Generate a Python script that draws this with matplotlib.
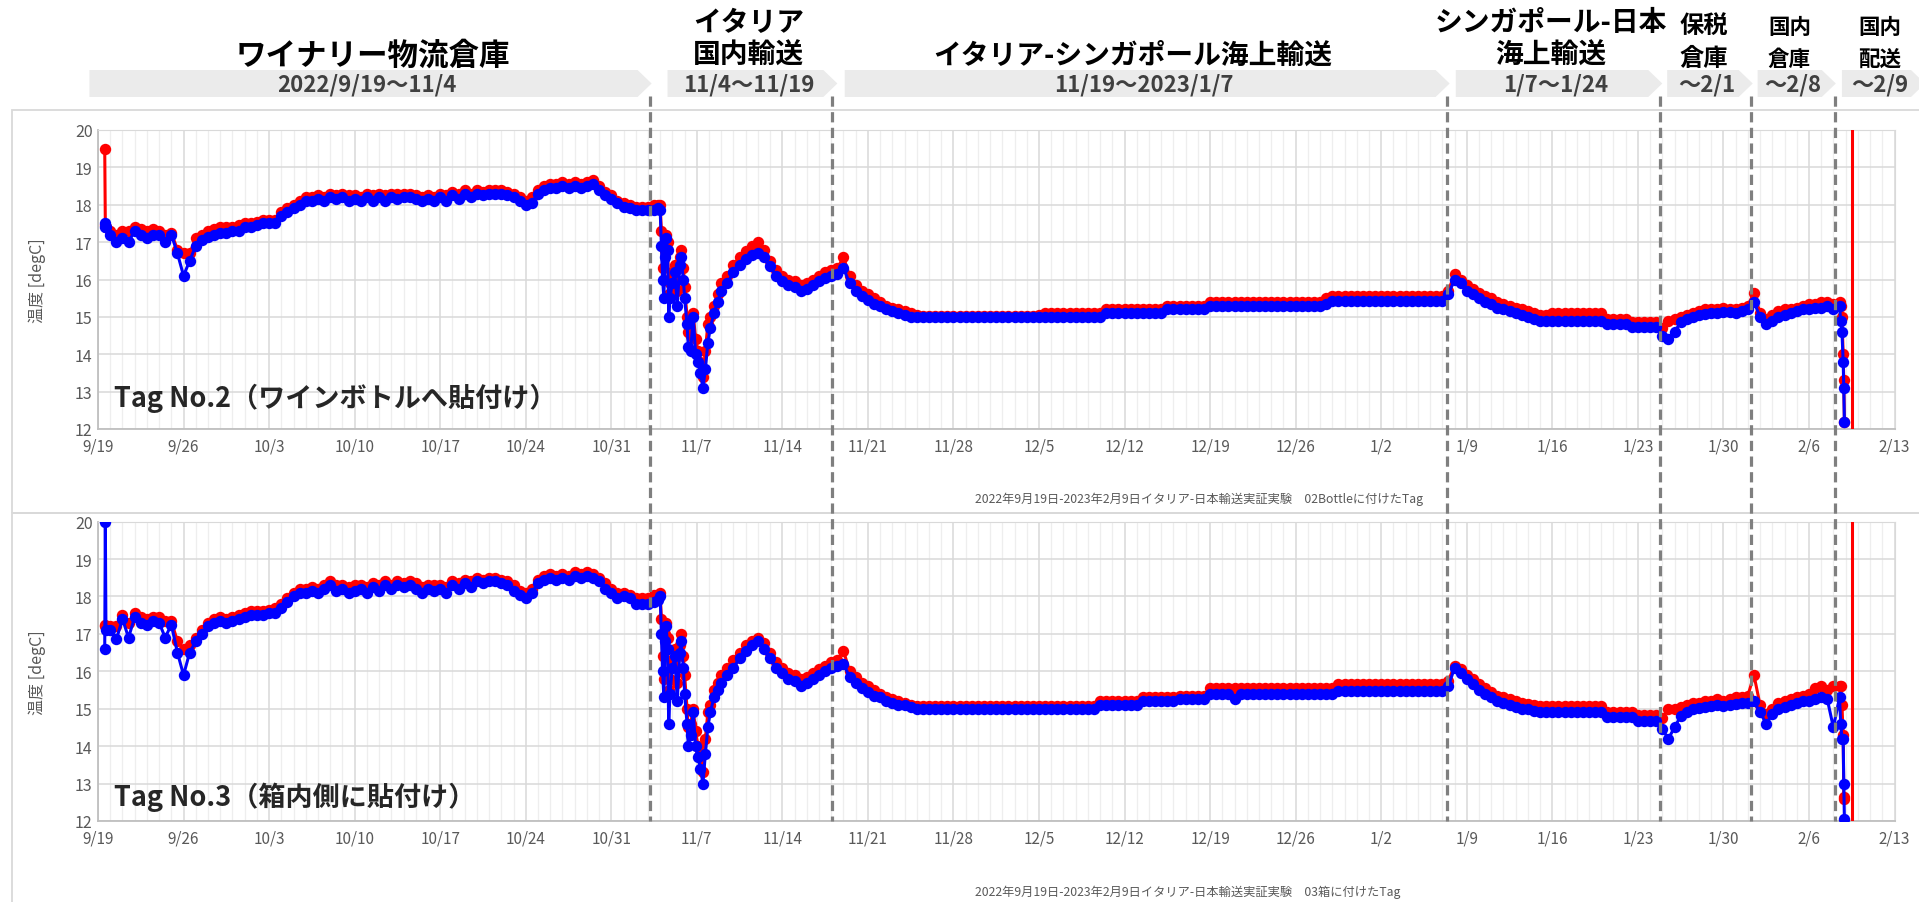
import numpy as np
import pandas as pd
import matplotlib
matplotlib.use("Agg")
import matplotlib.pyplot as plt
import matplotlib.dates as mdates
from matplotlib.patches import Polygon, Rectangle
from matplotlib.ticker import FixedLocator, FuncFormatter

plt.rcParams['font.family'] = ['Noto Sans CJK JP', 'DejaVu Sans']

START = pd.Timestamp('2022-09-19')
END = pd.Timestamp('2023-02-13')

# sample times, days after 2022-09-19 00:00
day_start = [0.55, 0.6, 0.65]
day_spike = [45.8, 46.0, 46.1, 46.2, 46.3, 46.4, 46.5, 46.6, 46.7, 46.8,
             47.0, 47.2, 47.4, 47.6, 47.7, 47.9, 48.0, 48.2, 48.3, 48.5,
             48.7, 48.9, 49.1, 49.3, 49.5, 49.7, 49.9, 50.1, 50.4, 50.7, 51.0]
day_end = [142.6, 142.7, 142.8, 142.85, 142.9]
# segment a: every 12h from day 1.0, segment c: every 12h from day 51.5

# ---- Tag No.2 ----
tag2_blue_start = [17.4, 17.5, 17.4]
tag2_red_start = [19.5, 17.45, 17.4]
tag2_blue_a = [
    17.2, 17.0, 17.1, 17.0, 17.3, 17.2, 17.1, 17.2, 17.2, 17.0,
    17.2, 16.7, 16.1, 16.5, 16.9, 17.05, 17.15, 17.2, 17.25, 17.25,
    17.3, 17.3, 17.4, 17.4, 17.45, 17.5, 17.5, 17.5, 17.7, 17.8,
    17.9, 18.0, 18.1, 18.1, 18.15, 18.1, 18.2, 18.15, 18.2, 18.1,
    18.15, 18.1, 18.2, 18.1, 18.2, 18.1, 18.2, 18.15, 18.2, 18.2,
    18.15, 18.1, 18.15, 18.1, 18.2, 18.1, 18.25, 18.15, 18.3, 18.2,
    18.3, 18.25, 18.3, 18.3, 18.3, 18.25, 18.2, 18.1, 18.0, 18.05,
    18.3, 18.4, 18.45, 18.45, 18.5, 18.45, 18.5, 18.45, 18.5, 18.55,
    18.4, 18.25, 18.15, 18.05, 17.95, 17.9, 17.85, 17.85, 17.85, 17.85]
tag2_red_a = [
    17.3, 17.2, 17.3, 17.3, 17.4, 17.35, 17.3, 17.35, 17.3, 17.2,
    17.25, 16.8, 16.7, 16.7, 17.1, 17.2, 17.3, 17.35, 17.4, 17.4,
    17.4, 17.45, 17.5, 17.5, 17.55, 17.6, 17.6, 17.6, 17.8, 17.9,
    18.0, 18.1, 18.2, 18.2, 18.25, 18.2, 18.3, 18.25, 18.3, 18.25,
    18.25, 18.2, 18.3, 18.25, 18.3, 18.25, 18.3, 18.3, 18.3, 18.3,
    18.25, 18.2, 18.25, 18.2, 18.3, 18.25, 18.35, 18.3, 18.4, 18.3,
    18.4, 18.35, 18.4, 18.4, 18.4, 18.35, 18.3, 18.2, 18.1, 18.2,
    18.4, 18.5, 18.55, 18.55, 18.6, 18.55, 18.6, 18.55, 18.6, 18.65,
    18.5, 18.35, 18.25, 18.1, 18.05, 18.0, 17.95, 17.95, 17.95, 18.0]
tag2_blue_b = [17.9, 17.85, 16.9, 16.0, 15.5, 16.6, 17.1, 16.8, 15.0, 15.5,
               15.9, 16.2, 15.3, 16.4, 16.6, 16.0, 15.5, 14.8, 14.2, 14.1,
               15.0, 14.0, 13.8, 13.5, 13.1, 13.6, 14.3, 14.7, 15.1, 15.4, 15.7]
tag2_red_b = [18.0, 18.0, 17.3, 16.3, 16.0, 16.8, 17.2, 17.0, 15.6, 15.9,
              16.2, 16.4, 15.7, 16.6, 16.8, 16.3, 15.8, 15.0, 14.6, 14.5,
              15.1, 14.4, 14.1, 13.8, 13.4, 14.1, 14.8, 15.0, 15.3, 15.6, 15.9]
tag2_blue_c = [
    15.9, 16.2, 16.4, 16.55, 16.65, 16.7, 16.6, 16.35, 16.1, 15.95,
    15.85, 15.8, 15.7, 15.75, 15.85, 15.95, 16.05, 16.1, 16.15, 16.3,
    15.9, 15.7, 15.55, 15.45, 15.35, 15.3, 15.2, 15.15, 15.1, 15.05,
    15.0, 15.0, 15.0, 15.0, 15.0, 15.0, 15.0, 15.0, 15.0, 15.0,
    15.0, 15.0, 15.0, 15.0, 15.0, 15.0, 15.0, 15.0, 15.0, 15.0,
    15.0, 15.0, 15.0, 15.0, 15.0, 15.0, 15.0, 15.0, 15.0, 15.0,
    15.0, 15.0, 15.1, 15.1, 15.1, 15.1, 15.1, 15.1, 15.1, 15.1,
    15.1, 15.1, 15.2, 15.2, 15.2, 15.2, 15.2, 15.2, 15.2, 15.3,
    15.3, 15.3, 15.3, 15.3, 15.3, 15.3, 15.3, 15.3, 15.3, 15.3,
    15.3, 15.3, 15.3, 15.3, 15.3, 15.3, 15.3, 15.3, 15.35, 15.42,
    15.42, 15.42, 15.42, 15.42, 15.42, 15.42, 15.42, 15.42, 15.42, 15.42,
    15.42, 15.42, 15.42, 15.42, 15.42, 15.42, 15.42, 15.42, 15.6, 16.0,
    15.9, 15.7, 15.6, 15.5, 15.4, 15.35, 15.25, 15.2, 15.15, 15.1,
    15.05, 15.0, 14.95, 14.9, 14.9, 14.9, 14.9, 14.9, 14.9, 14.9,
    14.9, 14.9, 14.9, 14.9, 14.82, 14.82, 14.82, 14.82, 14.73, 14.73,
    14.73, 14.73, 14.73, 14.5, 14.4, 14.6, 14.85, 14.95, 15.0, 15.05,
    15.08, 15.1, 15.1, 15.12, 15.12, 15.1, 15.15, 15.2, 15.4, 15.0,
    14.8, 14.9, 15.0, 15.05, 15.1, 15.15, 15.2, 15.2, 15.25, 15.25,
    15.3, 15.2, 15.3]
tag2_red_c = [
    16.1, 16.4, 16.6, 16.75, 16.9, 17.0, 16.8, 16.5, 16.25, 16.1,
    16.0, 15.95, 15.85, 15.9, 16.0, 16.1, 16.2, 16.25, 16.3, 16.6,
    16.1, 15.85, 15.7, 15.6, 15.5, 15.4, 15.3, 15.25, 15.2, 15.15,
    15.1, 15.05, 15.02, 15.02, 15.02, 15.02, 15.02, 15.02, 15.02, 15.02,
    15.02, 15.02, 15.02, 15.02, 15.02, 15.02, 15.02, 15.02, 15.02, 15.02,
    15.02, 15.05, 15.1, 15.1, 15.1, 15.1, 15.1, 15.1, 15.1, 15.1,
    15.1, 15.1, 15.2, 15.2, 15.2, 15.2, 15.2, 15.2, 15.2, 15.2,
    15.2, 15.2, 15.3, 15.3, 15.3, 15.3, 15.3, 15.3, 15.3, 15.4,
    15.4, 15.4, 15.4, 15.4, 15.4, 15.4, 15.4, 15.4, 15.4, 15.4,
    15.4, 15.4, 15.4, 15.4, 15.4, 15.4, 15.4, 15.4, 15.5, 15.55,
    15.55, 15.55, 15.55, 15.55, 15.55, 15.55, 15.55, 15.55, 15.55, 15.55,
    15.55, 15.55, 15.55, 15.55, 15.55, 15.55, 15.55, 15.55, 15.7, 16.15,
    16.0, 15.85, 15.75, 15.65, 15.55, 15.5, 15.4, 15.35, 15.3, 15.25,
    15.2, 15.15, 15.1, 15.05, 15.05, 15.1, 15.1, 15.1, 15.1, 15.1,
    15.1, 15.1, 15.1, 15.1, 14.95, 14.95, 14.95, 14.95, 14.85, 14.85,
    14.85, 14.85, 14.85, 14.7, 14.9, 14.95, 15.0, 15.05, 15.1, 15.15,
    15.2, 15.2, 15.2, 15.25, 15.2, 15.2, 15.25, 15.3, 15.65, 15.1,
    14.95, 15.05, 15.15, 15.2, 15.2, 15.25, 15.3, 15.35, 15.35, 15.4,
    15.4, 15.35, 15.4]
tag2_blue_d = [14.9, 14.6, 13.8, 13.1, 12.2]
tag2_red_d = [15.3, 15.0, 14.0, 13.3, 12.2]

# ---- Tag No.3 ----
tag3_blue_start = [16.6, 20.0, 17.1]
tag3_red_start = [17.2, 17.25, 17.2]
tag3_blue_a = [
    17.1, 16.85, 17.4, 16.9, 17.45, 17.3, 17.25, 17.35, 17.3, 16.9,
    17.25, 16.5, 15.9, 16.5, 16.8, 17.0, 17.2, 17.3, 17.35, 17.3,
    17.35, 17.4, 17.45, 17.5, 17.5, 17.5, 17.55, 17.55, 17.7, 17.85,
    18.0, 18.1, 18.1, 18.15, 18.1, 18.2, 18.3, 18.15, 18.2, 18.1,
    18.15, 18.2, 18.1, 18.25, 18.15, 18.3, 18.2, 18.3, 18.25, 18.3,
    18.2, 18.1, 18.2, 18.15, 18.2, 18.1, 18.3, 18.2, 18.35, 18.25,
    18.4, 18.35, 18.4, 18.4, 18.35, 18.3, 18.15, 18.05, 17.95, 18.1,
    18.35, 18.45, 18.5, 18.45, 18.5, 18.45, 18.55, 18.5, 18.55, 18.5,
    18.4, 18.2, 18.1, 17.95, 18.0, 17.95, 17.8, 17.8, 17.8, 17.85]
tag3_red_a = [
    17.2, 17.2, 17.5, 17.3, 17.55, 17.45, 17.4, 17.45, 17.45, 17.35,
    17.35, 16.8, 16.6, 16.7, 16.9, 17.1, 17.3, 17.4, 17.45, 17.4,
    17.45, 17.5, 17.55, 17.6, 17.6, 17.6, 17.65, 17.7, 17.8, 17.95,
    18.1, 18.2, 18.2, 18.25, 18.2, 18.3, 18.4, 18.3, 18.3, 18.25,
    18.3, 18.3, 18.25, 18.35, 18.3, 18.4, 18.3, 18.4, 18.35, 18.4,
    18.35, 18.25, 18.3, 18.3, 18.3, 18.25, 18.4, 18.35, 18.45, 18.4,
    18.5, 18.45, 18.5, 18.5, 18.45, 18.4, 18.3, 18.15, 18.1, 18.2,
    18.45, 18.55, 18.6, 18.55, 18.6, 18.55, 18.65, 18.6, 18.65, 18.6,
    18.5, 18.35, 18.2, 18.1, 18.1, 18.05, 17.95, 17.95, 17.95, 18.05]
tag3_blue_b = [17.9, 18.0, 17.0, 16.0, 15.3, 16.8, 17.2, 16.6, 14.6, 15.4,
               16.1, 16.4, 15.2, 16.5, 16.8, 16.1, 15.4, 14.6, 14.0, 14.3,
               14.9, 14.0, 13.7, 13.4, 13.0, 13.8, 14.5, 14.9, 15.3, 15.5, 15.7]
tag3_red_b = [18.05, 18.1, 17.4, 16.4, 15.8, 17.0, 17.3, 16.9, 15.5, 15.8,
              16.3, 16.6, 15.7, 16.7, 17.0, 16.4, 15.9, 15.0, 14.5, 14.6,
              15.0, 14.4, 14.0, 13.8, 13.3, 14.2, 14.9, 15.1, 15.5, 15.7, 15.9]
tag3_blue_c = [
    15.9, 16.1, 16.35, 16.55, 16.7, 16.8, 16.6, 16.35, 16.1, 15.95,
    15.8, 15.75, 15.6, 15.7, 15.8, 15.9, 16.0, 16.1, 16.15, 16.2,
    15.85, 15.7, 15.55, 15.45, 15.35, 15.3, 15.2, 15.15, 15.1, 15.1,
    15.05, 15.0, 15.0, 15.0, 15.0, 15.0, 15.0, 15.0, 15.0, 15.0,
    15.0, 15.0, 15.0, 15.0, 15.0, 15.0, 15.0, 15.0, 15.0, 15.0,
    15.0, 15.0, 15.0, 15.0, 15.0, 15.0, 15.0, 15.0, 15.0, 15.0,
    15.0, 15.1, 15.1, 15.1, 15.1, 15.1, 15.1, 15.1, 15.2, 15.2,
    15.2, 15.2, 15.2, 15.2, 15.25, 15.25, 15.25, 15.25, 15.25, 15.4,
    15.4, 15.4, 15.4, 15.25, 15.4, 15.4, 15.4, 15.4, 15.4, 15.4,
    15.4, 15.4, 15.4, 15.4, 15.4, 15.4, 15.4, 15.4, 15.4, 15.4,
    15.48, 15.48, 15.48, 15.48, 15.48, 15.48, 15.48, 15.48, 15.48, 15.48,
    15.48, 15.48, 15.48, 15.48, 15.48, 15.48, 15.48, 15.48, 15.6, 16.1,
    15.95, 15.8, 15.65, 15.5, 15.4, 15.3, 15.2, 15.15, 15.1, 15.05,
    15.0, 14.98, 14.95, 14.92, 14.9, 14.9, 14.9, 14.9, 14.9, 14.9,
    14.9, 14.9, 14.9, 14.9, 14.78, 14.78, 14.78, 14.78, 14.78, 14.67,
    14.67, 14.67, 14.67, 14.45, 14.2, 14.5, 14.8, 14.9, 15.0, 15.03,
    15.05, 15.08, 15.1, 15.08, 15.1, 15.12, 15.15, 15.15, 15.2, 14.9,
    14.6, 14.85, 15.0, 15.05, 15.1, 15.15, 15.2, 15.2, 15.25, 15.3,
    15.25, 14.5, 15.3]
tag3_red_c = [
    16.1, 16.3, 16.5, 16.7, 16.8, 16.9, 16.75, 16.5, 16.25, 16.1,
    15.95, 15.9, 15.8, 15.85, 15.95, 16.05, 16.15, 16.25, 16.3, 16.55,
    16.0, 15.85, 15.7, 15.6, 15.5, 15.4, 15.3, 15.25, 15.2, 15.15,
    15.1, 15.08, 15.08, 15.08, 15.08, 15.08, 15.08, 15.08, 15.08, 15.08,
    15.08, 15.08, 15.08, 15.08, 15.08, 15.08, 15.08, 15.08, 15.08, 15.08,
    15.08, 15.08, 15.08, 15.08, 15.08, 15.08, 15.08, 15.08, 15.08, 15.08,
    15.08, 15.2, 15.2, 15.2, 15.2, 15.2, 15.2, 15.2, 15.3, 15.3,
    15.3, 15.3, 15.3, 15.3, 15.35, 15.35, 15.35, 15.35, 15.35, 15.55,
    15.55, 15.55, 15.55, 15.55, 15.55, 15.55, 15.55, 15.55, 15.55, 15.55,
    15.55, 15.55, 15.55, 15.55, 15.55, 15.55, 15.55, 15.55, 15.55, 15.55,
    15.65, 15.65, 15.65, 15.65, 15.65, 15.65, 15.65, 15.65, 15.65, 15.65,
    15.65, 15.65, 15.65, 15.65, 15.65, 15.65, 15.65, 15.65, 15.75, 16.15,
    16.05, 15.9, 15.8, 15.65, 15.55, 15.45, 15.35, 15.3, 15.25, 15.2,
    15.15, 15.12, 15.1, 15.08, 15.08, 15.08, 15.08, 15.08, 15.08, 15.08,
    15.08, 15.08, 15.08, 15.08, 14.92, 14.92, 14.92, 14.92, 14.92, 14.82,
    14.82, 14.82, 14.82, 14.75, 15.0, 15.0, 15.05, 15.1, 15.15, 15.15,
    15.2, 15.2, 15.25, 15.2, 15.25, 15.3, 15.3, 15.35, 15.9, 15.1,
    14.85, 15.0, 15.15, 15.2, 15.25, 15.3, 15.35, 15.4, 15.55, 15.6,
    15.5, 15.6, 15.6]
tag3_blue_d = [14.6, 14.2, 14.2, 13.0, 12.05]
tag3_red_d = [15.6, 15.1, 14.3, 12.65, 12.6]

# stage markers
stage_titles = ['ワイナリー物流倉庫', 'イタリア\n国内輸送', 'イタリア-シンガポール海上輸送',
                'シンガポール-日本\n海上輸送', '保税\n倉庫', '国内\n倉庫', '国内\n配送']
stage_ranges = ['2022/9/19～11/4', '11/4～11/19', '11/19～2023/1/7', '1/7～1/24',
                '～2/1', '～2/8', '～2/9']
stage_start = [-0.7, 46.6, 61.1, 111.1, 128.4, 135.8, 142.7]
stage_end = [45.3, 60.5, 110.6, 128.0, 135.4, 142.2, 149.5]
stage_lines = [45.2, 60.1, 110.4, 127.85, 135.25, 142.15]
arrival_day = 143.55

captions = ['2022年9月19日-2023年2月9日イタリア-日本輸送実証実験\u300002Bottleに付けたTag',
            '2022年9月19日-2023年2月9日イタリア-日本輸送実証実験\u300003箱に付けたTag']
tag_labels = ['Tag No.2（ワインボトルへ貼付け）', 'Tag No.3（箱内側に貼付け）']


def to_dates(days):
    return START + pd.to_timedelta(np.asarray(days, dtype=float), unit='D')


def build(start, a, b, c, d):
    assert len(b) == len(day_spike) and len(d) == len(day_end)
    days = np.concatenate([day_start, 1.0 + 0.5 * np.arange(len(a)), day_spike,
                           51.5 + 0.5 * np.arange(len(c)), day_end])
    vals = np.concatenate([start, a, b, c, d])
    return to_dates(days), vals


tags = [
    (build(tag2_red_start, tag2_red_a, tag2_red_b, tag2_red_c, tag2_red_d),
     build(tag2_blue_start, tag2_blue_a, tag2_blue_b, tag2_blue_c, tag2_blue_d)),
    (build(tag3_red_start, tag3_red_a, tag3_red_b, tag3_red_c, tag3_red_d),
     build(tag3_blue_start, tag3_blue_a, tag3_blue_b, tag3_blue_c, tag3_blue_d)),
]

W, H = 1919, 903
fig = plt.figure(figsize=(W / 100, H / 100), dpi=100)


def fbox(l, t, r, b):
    return [l / W, 1 - b / H, (r - l) / W, (b - t) / H]


# chart-area frames
fig.add_artist(Rectangle((12 / W, 1 - 514 / H), 1.0, (514 - 111) / H, transform=fig.transFigure,
                         fill=False, ec='#d9d9d9', lw=1.3, zorder=0))
fig.add_artist(Rectangle((12 / W, -0.05), 1.0, 1 - 514 / H + 0.05, transform=fig.transFigure,
                         fill=False, ec='#d9d9d9', lw=1.3, zorder=0))

week_ticks = mdates.date2num(pd.date_range(START, END, freq='7D'))
day_ticks = mdates.date2num(pd.date_range(START, END, freq='D'))
fmt = FuncFormatter(lambda x, p: f"{mdates.num2date(x).month}/{mdates.num2date(x).day}")

boxes = [fbox(98, 131, 1894.5, 430), fbox(98, 522.6, 1894.5, 822)]
label_y = [0.107, 0.084]
cap_y = [499, 892]
for i, ((rd, rv), (bd, bv)) in enumerate(tags):
    ax = fig.add_axes(boxes[i])
    ax.plot(rd, rv, color='#ff0000', lw=2.2, marker='o', ms=8.2, mew=0, zorder=3)
    ax.plot(bd, bv, color='#0000ff', lw=2.2, marker='o', ms=8.2, mew=0, zorder=4)
    ax.axvline(to_dates([arrival_day])[0], color='#ff0000', lw=2.2, zorder=5)
    ax.set_xlim(START, END)
    ax.set_ylim(12, 20)
    ax.set_yticks(range(12, 21))
    ax.xaxis.set_major_locator(FixedLocator(week_ticks))
    ax.xaxis.set_minor_locator(FixedLocator(day_ticks))
    ax.xaxis.set_major_formatter(fmt)
    ax.set_axisbelow(True)
    ax.grid(which='major', color='#d9d9d9', lw=1.1)
    ax.grid(which='minor', axis='x', color='#eeeeee', lw=0.9)
    ax.tick_params(which='both', length=0)
    ax.tick_params(axis='x', labelsize=11, labelcolor='#595959', pad=6)
    ax.tick_params(axis='y', labelsize=11.5, labelcolor='#595959', pad=4)
    for s in ax.spines.values():
        s.set_color('#d9d9d9')
    for s in ('left', 'bottom'):
        ax.spines[s].set_color('#bfbfbf')
        ax.spines[s].set_linewidth(1.3)
    ax.set_ylabel('温度 [degC]', fontsize=11.5, color='#595959')
    ax.yaxis.set_label_coords(-0.029, 0.5)
    ax.text(0.0089, label_y[i], tag_labels[i], transform=ax.transAxes, ha='left', va='center',
            fontsize=19.5, fontweight='bold', color='#262626', zorder=6)
    fig.text(975 / W, 1 - cap_y[i] / H, captions[i], ha='left', va='center',
             fontsize=8.8, color='#595959')

# overlay: stage lines and header arrows, x in dates, y in pixels
ov = fig.add_axes([98 / W, 0, 1796.5 / W, 1])
ov.set_xlim(START, END)
ov.set_ylim(H, 0)
ov.axis('off')
ov.patch.set_alpha(0)
ov.vlines(to_dates(stage_lines), 97, 822, colors='#7f7f7f', lw=2.3,
          linestyles=(0, (3.2, 1.7)), zorder=10)

tip = 1.15
title_size = [22, 20, 20, 20, 17.5, 15.5, 15.5]
title_base = [56, 56, 56, 56, 59, 60, 60]
title_shift = [0.5, 0, -0.9, -0.4, -0.2, -0.3, 0]
for k in range(len(stage_titles)):
    s, e = stage_start[k], stage_end[k]
    xs = mdates.date2num(to_dates([s, e - tip, e, e - tip, s]))
    ov.add_patch(Polygon(list(zip(xs, [71, 71, 84.5, 98, 98])), closed=True,
                         fc='#ebebeb', ec='none', clip_on=False, zorder=2))
    xc = (s + e) / 2 - 0.3
    ov.text(to_dates([xc])[0], 85, stage_ranges[k], ha='center', va='center', fontsize=16,
            color='#404040', fontweight='bold', clip_on=False, zorder=3)
    lines = stage_titles[k].split('\n')
    for j, line in enumerate(reversed(lines)):
        ov.text(to_dates([xc + title_shift[k]])[0], title_base[k] - 33 * j, line,
                ha='center', va='center', fontsize=title_size[k], fontweight='bold',
                color='#000000', clip_on=False, zorder=3)

fig.savefig('out.png', dpi=100)
